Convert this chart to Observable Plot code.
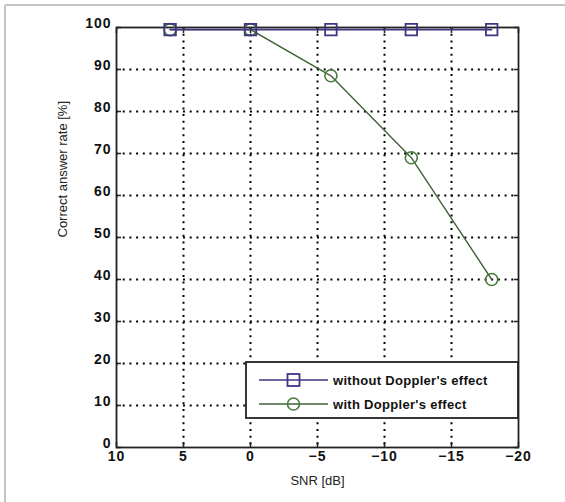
<!DOCTYPE html>
<html>
<head>
<meta charset="utf-8">
<script src="https://cdn.jsdelivr.net/npm/d3@7"></script>
<script src="https://cdn.jsdelivr.net/npm/@observablehq/plot@0.6"></script>
<style>
  html, body { margin: 0; padding: 0; background: white; }
  #chart { width: 565px; height: 502px; }
</style>
</head>
<body>
<div id="chart"></div>
<script>
const snr = [6, 0, -6, -12, -18];
const withoutDoppler = [99.5, 99.5, 99.5, 99.5, 99.5];
const withDoppler = [99.5, 99.5, 88.5, 69, 40];
const seriesNames = ["without Doppler's effect", "with Doppler's effect"];
const xTicks = [10, 5, 0, -5, -10, -15, -20];
const yTicks = [0, 10, 20, 30, 40, 50, 60, 70, 80, 90, 100];
const xLabel = "SNR [dB]";
const yLabel = "Correct answer rate [%]";

const purple = "#3f3580";
const green = "#4a7a3e";
const greenDark = "#3f6236";
const font = "'Liberation Sans', Arial, sans-serif";

const rowsWithout = snr.map((x, i) => ({x, y: withoutDoppler[i]}));
const rowsWith = snr.map((x, i) => ({x, y: withDoppler[i]}));

const chart = Plot.plot({
  width: 565,
  height: 502,
  marginLeft: 116,
  marginRight: 47,
  marginTop: 27,
  marginBottom: 55,
  x: {domain: [10, -20], ticks: xTicks},
  y: {domain: [0, 100], ticks: yTicks},
  style: {fontFamily: font, fontSize: "14px", color: "#111", background: "white"},
  marks: [
    Plot.gridX(xTicks.slice(1, -1), {stroke: "#000", strokeOpacity: 1, strokeWidth: 2, strokeDasharray: "2,4.7"}),
    Plot.gridY(yTicks.slice(1, -1), {stroke: "#000", strokeOpacity: 1, strokeWidth: 2, strokeDasharray: "2,4.7"}),
    Plot.axisX(xTicks, {anchor: "bottom", tickSize: 0, tickPadding: 4, label: null, ariaLabel: "x-ticklabels"}),
    Plot.axisY(yTicks, {anchor: "left", tickSize: 0, tickPadding: 5, dy: -4, label: null, ariaLabel: "y-ticklabels"}),
    Plot.axisX(xTicks, {anchor: "bottom", tickSize: -5, tickFormat: () => "", label: null, strokeWidth: 1.5, stroke: "#222"}),
    Plot.axisX(xTicks, {anchor: "top", tickSize: -5, tickFormat: () => "", label: null, strokeWidth: 1.5, stroke: "#222"}),
    Plot.axisY(yTicks, {anchor: "left", tickSize: -5, tickFormat: () => "", label: null, strokeWidth: 1.5, stroke: "#222"}),
    Plot.axisY(yTicks, {anchor: "right", tickSize: -5, tickFormat: () => "", label: null, strokeWidth: 1.5, stroke: "#222"}),
    Plot.text([xLabel], {frameAnchor: "bottom", dy: 37, fontSize: 13, fill: "#222"}),
    Plot.text([yLabel], {frameAnchor: "left", dx: -54, rotate: -90, fontSize: 13, fill: "#222"}),
    Plot.frame({stroke: "#222", strokeWidth: 1.8}),
    Plot.line(rowsWith, {x: "x", y: "y", stroke: greenDark, strokeWidth: 1.4}),
    Plot.line(rowsWithout, {x: "x", y: "y", stroke: purple, strokeWidth: 1.6}),
    Plot.dot(rowsWith, {x: "x", y: "y", symbol: "circle", r: 6, stroke: green, strokeWidth: 1.6, fill: "none"}),
    Plot.dot(rowsWithout, {x: "x", y: "y", symbol: "square", r: 6.5, stroke: purple, strokeWidth: 1.8, fill: "none"})
  ]
});

document.getElementById("chart").appendChild(chart);

const svg = d3.select(chart);
// enlarge tick labels
svg.selectAll("g text").each(function() {
  const t = d3.select(this);
  const g = d3.select(this.parentNode);
  const al = (g.attr("aria-label") || "") + " " + (d3.select(this.parentNode.parentNode).attr("aria-label") || "");
  if (/ticklabels|tick label/.test(al) && t.text() !== "") {
    t.attr("font-size", 14).attr("font-weight", "bold").style("letter-spacing", "1px").style("font-size", "14px");
  }
});

// outer light border (left & top)
svg.append("line").attr("x1", 5).attr("y1", 5).attr("x2", 565).attr("y2", 5).attr("stroke", "#c4c4c4").attr("stroke-width", 2);
svg.append("line").attr("x1", 5).attr("y1", 5).attr("x2", 5).attr("y2", 502).attr("stroke", "#c4c4c4").attr("stroke-width", 2);

// legend box
const lg = svg.append("g");
lg.append("rect").attr("x", 246).attr("y", 362).attr("width", 272).attr("height", 56)
  .attr("fill", "white").attr("stroke", "#222").attr("stroke-width", 1.8);
const legendItems = [
  {name: seriesNames[0], color: purple, sym: "square", y: 380},
  {name: seriesNames[1], color: green, sym: "circle", y: 404}
];
legendItems.forEach(it => {
  lg.append("line").attr("x1", 259).attr("x2", 328).attr("y1", it.y).attr("y2", it.y)
    .attr("stroke", it.sym === "circle" ? greenDark : it.color).attr("stroke-width", 1.6);
  if (it.sym === "square") {
    lg.append("rect").attr("x", 287.5).attr("y", it.y - 6).attr("width", 12).attr("height", 12)
      .attr("fill", "none").attr("stroke", it.color).attr("stroke-width", 1.8);
  } else {
    lg.append("circle").attr("cx", 293.5).attr("cy", it.y).attr("r", 6)
      .attr("fill", "none").attr("stroke", it.color).attr("stroke-width", 1.6);
  }
  lg.append("text").attr("x", 333).attr("y", it.y).attr("dy", "0.35em")
    .attr("text-anchor", "start")
    .attr("font-family", font).attr("font-size", 13).attr("font-weight", "bold")
    .attr("letter-spacing", 0.3).attr("fill", "#111").text(it.name);
});
</script>
</body>
</html>
